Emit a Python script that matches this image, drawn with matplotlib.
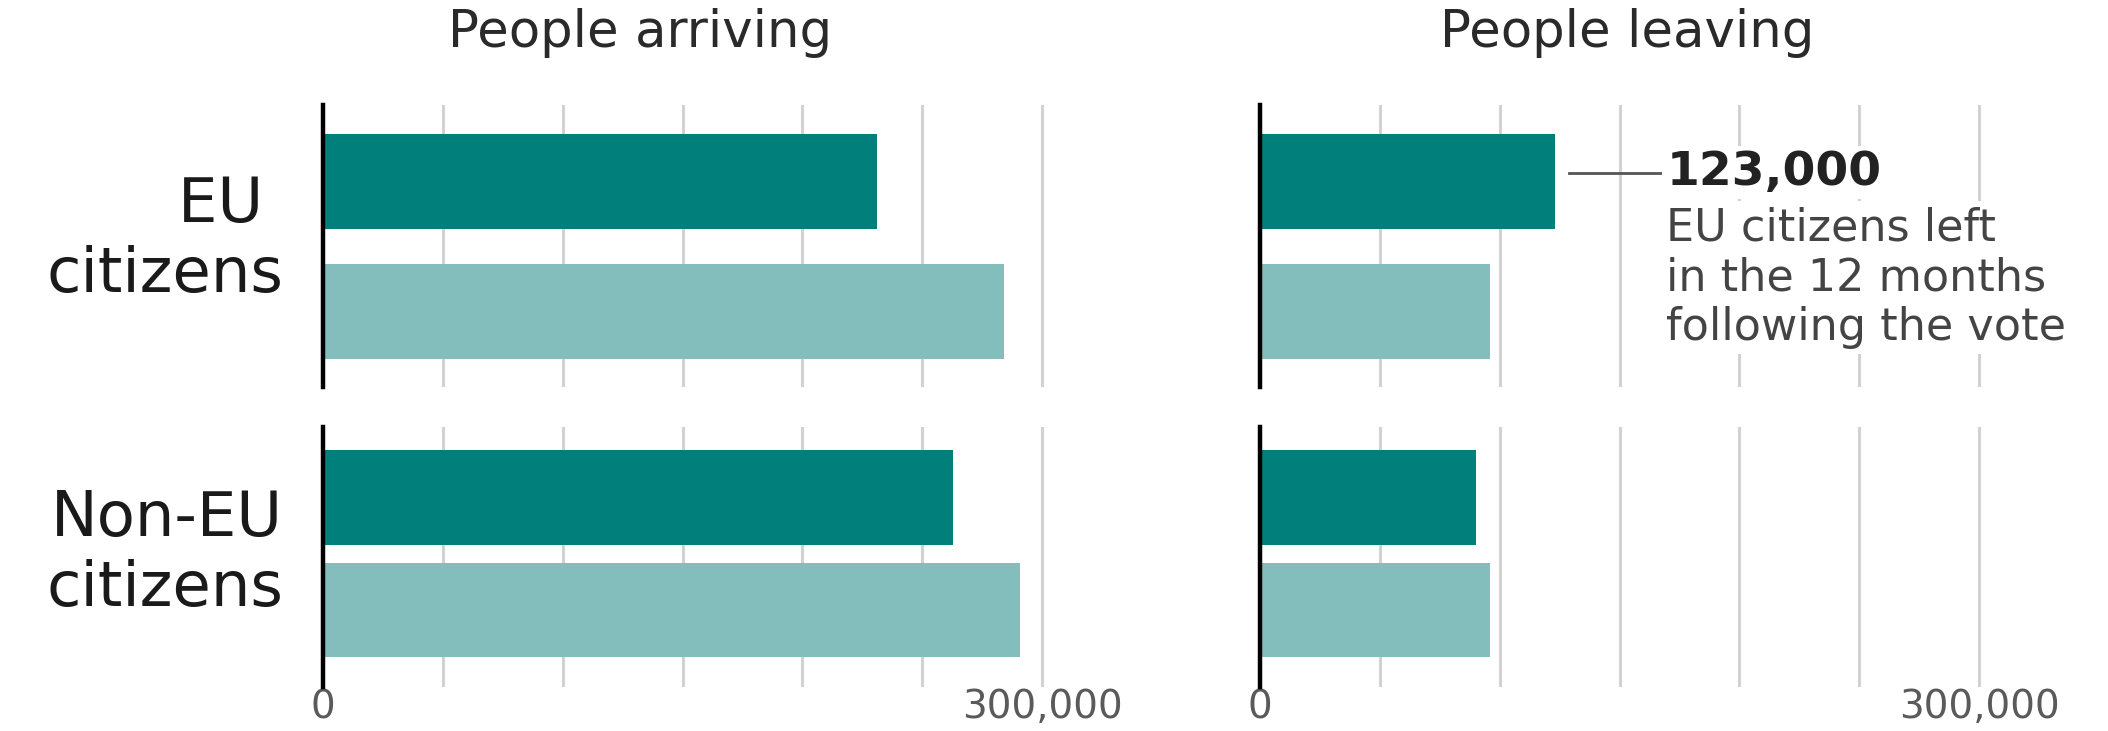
# Migration before/after the vote: people arriving vs leaving
import matplotlib.pyplot as plt
import numpy as np

# Data
row_labels = ['EU \ncitizens', 'Non-EU\ncitizens']
panel_titles = ['People arriving', 'People leaving']
arriving_after = [231000, 263000]   # 12 months following the vote (dark)
arriving_before = [284000, 291000]  # previous 12 months (light)
leaving_after = [123000, 90000]
leaving_before = [96000, 96000]
grid_values = [0, 50000, 100000, 150000, 200000, 250000, 300000]
tick_labels = ['0', '', '', '', '', '', '300,000']
callout_value = '123,000'
callout_text = 'EU citizens left\nin the 12 months\nfollowing the vote'

dark = '#007f7b'
light = '#83bebd'
grid_col = '#d2d2d2'

plt.rcParams['font.family'] = ['DejaVu Sans']

W, H = 2108, 731
fig = plt.figure(figsize=(W / 100, H / 100), dpi=100)


def add_panel(left, top, right, bottom):
    return fig.add_axes([left / W, 1 - bottom / H, (right - left) / W, (bottom - top) / H])


col_left = [323, 1260]
col_width = 743
rows = [(105, 387), (427, 687)]
row_ylims = [(1.58, -0.59), (1.684, -0.627)]
bar_heights = [0.73, 0.84]

series = [(arriving_after, arriving_before), (leaving_after, leaving_before)]

axes = {}
for c in range(2):
    after, before = series[c]
    for r in range(2):
        top, bottom = rows[r]
        ax = add_panel(col_left[c], top, col_left[c] + col_width, bottom)
        axes[(r, c)] = ax
        ax.barh([0, 1], [after[r], before[r]], height=bar_heights[r],
                color=[dark, light], zorder=2)
        ax.set_xlim(0, 310000)
        ax.set_ylim(*row_ylims[r])
        ax.set_xticks(grid_values)
        ax.set_yticks([])
        ax.grid(axis='x', color=grid_col, lw=2.2)
        ax.set_axisbelow(True)
        ax.axvline(0, color='black', lw=3.2, zorder=3, clip_on=False)
        for s in ax.spines.values():
            s.set_visible(False)
        if r == 1:
            ax.set_xticklabels(tick_labels)
            ax.tick_params(axis='x', length=0, pad=1, labelsize=28, labelcolor='#5a5a5a')
        else:
            ax.tick_params(axis='x', length=0, labelbottom=False)

# panel titles
title_x = [640, 1627]
for c in range(2):
    fig.text(title_x[c] / W, 1 - 47 / H, panel_titles[c], ha='center', va='baseline',
             fontsize=37, color='#2a2a2a')

# row labels
label_y = [240, 554]
for r in range(2):
    fig.text(283 / W, 1 - label_y[r] / H, row_labels[r], ha='right', va='center',
             fontsize=45, color='#1a1a1a')

# callout on EU leaving bar
ax = axes[(0, 1)]
v = leaving_after[0]
ax.plot([v + 6000, v + 45000], [-0.07, -0.07], color='#555555', lw=2, zorder=4, clip_on=False)
ax.text(v + 46500, -0.07, callout_value, ha='left', va='center', fontsize=34,
        fontweight='bold', color='#222222', zorder=5, clip_on=False,
        bbox=dict(facecolor='white', edgecolor='none', pad=3))
ax.text(v + 46500, 0.19, callout_text, ha='left', va='top', fontsize=32,
        color='#444444', zorder=5, clip_on=False,
        bbox=dict(facecolor='white', edgecolor='none', pad=4))

fig.savefig('out.png', dpi=100)
